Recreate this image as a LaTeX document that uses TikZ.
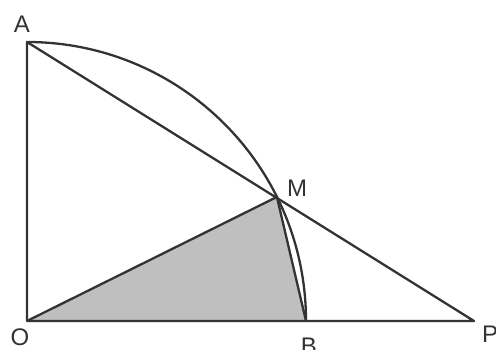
\documentclass[tikz,border=0pt]{standalone}
\usepackage{fontspec}
\setmainfont{Liberation Sans}
\usetikzlibrary{calc}
\begin{document}
\begin{tikzpicture}[x=1pt,y=1pt,
  edge/.style={draw=black!80, line width=2.3pt, line join=round},
  lbl/.style={text=black!80, font=\fontsize{24}{24}\selectfont, inner sep=0pt}]
\useasboundingbox (0,0) rectangle (496,350);
\coordinate (O) at (27,29);
\coordinate (A) at (27,308);
\coordinate (B) at (306,29);
\coordinate (P) at (474,29);
\coordinate (M) at ($(O)+(26.4:279)$);
\fill[black!25] (O) -- (M) -- (B) -- cycle;
\draw[edge] (A) -- (O) -- (P) -- cycle;
\draw[edge] (O) -- (M) -- (B);
\draw[edge] (A) arc[start angle=90, end angle=0, radius=279];
\node[lbl] (lA) at (22,326) {A};
\node[lbl] (lM) at (297,162) {M};
\node[lbl] (lO) at (20,13) {O};
\node[lbl] (lB) at (309,4) {B};
\node[lbl, anchor=west] (lP) at (482,16) {P};
\end{tikzpicture}
\end{document}
